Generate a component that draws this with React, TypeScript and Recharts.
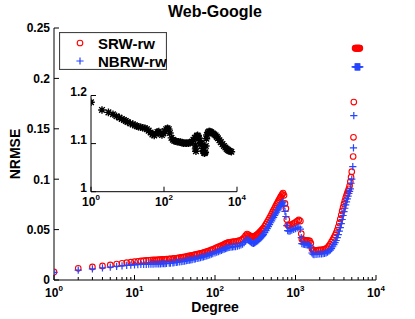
import { ScatterChart, Scatter, XAxis, YAxis, Legend, CartesianGrid } from 'recharts'

const FONT = '"Liberation Sans", Arial, Helvetica, sans-serif'
const RED = '#ff0000'
const BLUE = '#2444ff'
const AXIS = '#000000'

// degree values of the main curves
const DEGREE = [
  1, 2, 3, 4, 5, 6, 7, 8, 9,
  10, 11, 12, 13, 14, 15, 16, 17, 18, 19,
  20, 21, 22, 23, 24, 25, 27, 28, 30, 31,
  33, 34, 36, 38, 40, 42, 44, 46, 48, 50,
  52, 55, 57, 60, 63, 66, 69, 72, 75, 79,
  82, 86, 90, 94, 100, 105, 110, 115, 120, 125,
  130, 135, 140, 145, 150, 158, 165, 172, 180, 190,
  200, 210, 220, 230, 240, 250, 260, 268, 275, 283,
  290, 300, 310, 320, 330, 340, 350, 360, 370, 380,
  390, 400, 415, 430, 445, 460, 475, 490, 505, 520,
  535, 550, 565, 580, 595, 610, 625, 640, 655, 670,
  685, 700, 720, 740, 760, 780, 800, 830, 860, 900,
  950, 1000, 1050, 1100, 1150, 1180, 1200, 1250, 1300, 1350,
  1400, 1450, 1500, 1550, 1600, 1650, 1700, 1800, 1900, 2000,
  2100, 2200, 2300, 2400, 2500, 2600, 2700, 2800, 2900, 3000,
  3100, 3200, 3300, 3400, 3500, 3600, 3700, 3800, 3900, 4000,
  4100, 4200, 4300, 4400, 4500, 4600, 4700, 4800, 4900, 5000,
]

const SRW = [
  0.008, 0.0116, 0.013, 0.014, 0.015, 0.0158, 0.0166, 0.0172, 0.0177,
  0.0182, 0.0186, 0.0189, 0.0192, 0.0194, 0.0196, 0.0198, 0.0199, 0.02, 0.0201,
  0.0202, 0.0203, 0.0204, 0.0205, 0.0206, 0.0207, 0.0209, 0.021, 0.0213, 0.0214,
  0.0216, 0.0218, 0.0221, 0.0224, 0.0227, 0.023, 0.0233, 0.0236, 0.0239, 0.0242,
  0.0245, 0.0249, 0.0252, 0.0256, 0.026, 0.0264, 0.0268, 0.0272, 0.0276, 0.0282,
  0.0286, 0.0292, 0.0298, 0.0304, 0.0314, 0.0321, 0.0328, 0.0334, 0.0341, 0.0347,
  0.0354, 0.036, 0.0366, 0.0371, 0.0374, 0.0376, 0.0378, 0.038, 0.0382, 0.0386,
  0.039, 0.0396, 0.0405, 0.042, 0.044, 0.0456, 0.0448, 0.044, 0.0435, 0.0431,
  0.0428, 0.043, 0.0434, 0.044, 0.0447, 0.0455, 0.0465, 0.0475, 0.0485, 0.0495,
  0.0505, 0.0515, 0.0535, 0.0555, 0.0575, 0.0595, 0.0615, 0.0635, 0.0655, 0.0675,
  0.0694, 0.0712, 0.073, 0.0748, 0.0764, 0.078, 0.0795, 0.081, 0.0824, 0.0838,
  0.085, 0.0862, 0.084, 0.076, 0.071, 0.06, 0.0545, 0.054, 0.0545, 0.0552,
  0.0562, 0.0572, 0.0584, 0.0596, 0.0585, 0.046, 0.0405, 0.0398, 0.0395, 0.0393,
  0.0392, 0.039, 0.0388, 0.0365, 0.031, 0.0295, 0.0292, 0.0293, 0.0296, 0.0298,
  0.03, 0.0302, 0.0306, 0.0312, 0.0322, 0.0338, 0.0356, 0.0378, 0.0398, 0.042,
  0.0444, 0.0468, 0.0496, 0.0528, 0.0565, 0.0605, 0.0645, 0.0685, 0.072, 0.0755,
  0.0785, 0.0815, 0.084, 0.0862, 0.0882, 0.0905, 0.0935, 0.0975, 0.102, 0.1075,
]

const NBRW = [
  0.0075, 0.0098, 0.011, 0.012, 0.0128, 0.0135, 0.014, 0.0145, 0.0148,
  0.015, 0.0152, 0.0154, 0.0155, 0.0156, 0.0157, 0.0158, 0.0158, 0.0159, 0.0159,
  0.016, 0.016, 0.0161, 0.0162, 0.0163, 0.0164, 0.0166, 0.0167, 0.017, 0.0171,
  0.0174, 0.0176, 0.0179, 0.0182, 0.0185, 0.0188, 0.0191, 0.0194, 0.0197, 0.02,
  0.0203, 0.0207, 0.021, 0.0214, 0.0218, 0.0222, 0.0226, 0.023, 0.0234, 0.024,
  0.0244, 0.025, 0.0256, 0.0262, 0.027, 0.0276, 0.0282, 0.0288, 0.0294, 0.03,
  0.0305, 0.0311, 0.0316, 0.0321, 0.0324, 0.0326, 0.0328, 0.033, 0.0332, 0.0336,
  0.034, 0.0347, 0.0355, 0.037, 0.039, 0.0402, 0.0395, 0.0387, 0.038, 0.0372,
  0.0365, 0.0362, 0.0368, 0.0375, 0.0382, 0.039, 0.04, 0.041, 0.042, 0.043,
  0.044, 0.045, 0.047, 0.049, 0.051, 0.053, 0.0549, 0.0568, 0.0586, 0.0605,
  0.0622, 0.064, 0.0656, 0.0672, 0.0687, 0.0702, 0.0716, 0.073, 0.0742, 0.0755,
  0.0766, 0.0776, 0.074, 0.068, 0.063, 0.054, 0.049, 0.0485, 0.0488, 0.0495,
  0.0502, 0.051, 0.0518, 0.0525, 0.0505, 0.042, 0.036, 0.0355, 0.0352, 0.035,
  0.0349, 0.0347, 0.0345, 0.032, 0.0268, 0.0256, 0.0252, 0.0253, 0.0256, 0.0258,
  0.026, 0.0262, 0.0265, 0.027, 0.0276, 0.0285, 0.0297, 0.0312, 0.033, 0.035,
  0.037, 0.0392, 0.042, 0.045, 0.0485, 0.052, 0.056, 0.06, 0.064, 0.0678,
  0.0712, 0.0745, 0.0775, 0.0805, 0.0832, 0.0858, 0.088, 0.0905, 0.096, 0.1,
]

// sparse points on the last jump, and the highest degrees
const SRW_TAIL_DEGREE = [5200, 5250, 5300]
const SRW_TAIL = [0.1225, 0.1415, 0.1765]
const NBRW_TAIL_DEGREE = [5150, 5250, 5300]
const NBRW_TAIL = [0.1125, 0.131, 0.163]
const TOP_DEGREE = [5500, 5600, 5700, 5800, 5900, 6000, 6100, 6200, 6300]
const SRW_TOP = [0.23, 0.23, 0.23, 0.23, 0.23, 0.23, 0.23, 0.23, 0.23]
const NBRW_TOP = [0.2115, 0.2115, 0.2115, 0.2115, 0.2115, 0.2115, 0.2115, 0.2115, 0.2115]

// inset: ratio of the two errors
const INSET_DEGREE = [
  1, 2, 3, 4, 5, 6, 7, 8, 9, 10, 12, 14, 16, 18, 20, 23, 26, 30, 34, 38, 43, 48, 54, 60, 66, 72, 80,
  88, 96, 105, 115, 125, 135, 145, 160, 175, 190, 210, 230, 250, 280, 310, 340, 380, 420, 470, 520,
  580, 640, 700, 720, 735, 750, 770, 800, 830, 860, 900, 950, 1000, 1050, 1100, 1150, 1200, 1250,
  1300, 1350, 1400, 1450, 1500, 1600, 1700, 1800, 1900, 2000, 2200, 2400, 2600, 2800, 3000, 3300,
  3600, 4000, 4400, 4800, 5200, 5600, 6000, 6500, 7000,
]
const INSET_RATIO = [
  1.186, 1.17, 1.165, 1.161, 1.157, 1.154, 1.151, 1.149, 1.147, 1.145, 1.142, 1.14, 1.138, 1.136,
  1.135, 1.134, 1.133, 1.132, 1.13, 1.127, 1.123, 1.119, 1.117, 1.12, 1.124, 1.125, 1.121, 1.118,
  1.121, 1.126, 1.13, 1.132, 1.13, 1.122, 1.112, 1.108, 1.106, 1.105, 1.104, 1.104, 1.103, 1.102,
  1.101, 1.101, 1.101, 1.101, 1.102, 1.104, 1.108, 1.112, 1.097, 1.089, 1.084, 1.113, 1.116, 1.117,
  1.115, 1.112, 1.106, 1.101, 1.1, 1.097, 1.09, 1.084, 1.081, 1.08, 1.082, 1.095, 1.11, 1.118, 1.123,
  1.125, 1.125, 1.124, 1.123, 1.121, 1.119, 1.117, 1.114, 1.111, 1.107, 1.103, 1.099, 1.095, 1.092,
  1.089, 1.087, 1.085, 1.084, 1.083,
]

const Y_TICKS = [0, 0.05, 0.1, 0.15, 0.2, 0.25]
const DECADES = [1, 10, 100, 1000]
const X_TICKS = [...DECADES.flatMap((d) => [1, 2, 3, 4, 5, 6, 7, 8, 9].map((m) => m * d)), 10000]
const INSET_X_TICKS = [1, 100, 10000]
const INSET_Y_TICKS = [1, 1.1, 1.2]

const srwData = [
  ...DEGREE.map((d, i) => ({ d, v: SRW[i] })),
  ...SRW_TAIL_DEGREE.map((d, i) => ({ d, v: SRW_TAIL[i] })),
  ...TOP_DEGREE.map((d, i) => ({ d, v: SRW_TOP[i] })),
]
const nbrwData = [
  ...DEGREE.map((d, i) => ({ d, v: NBRW[i] })),
  ...NBRW_TAIL_DEGREE.map((d, i) => ({ d, v: NBRW_TAIL[i] })),
  ...TOP_DEGREE.map((d, i) => ({ d, v: NBRW_TOP[i] })),
]
const insetData = INSET_DEGREE.map((d, i) => ({ d, v: INSET_RATIO[i] }))

const isMajor = (v: number) => {
  const e = Math.log10(v)
  return Math.abs(e - Math.round(e)) < 1e-6
}

const label = { fontFamily: FONT, fontWeight: 'bold' as const, fill: '#000' }

const circle = (p: any) => <circle cx={p.cx} cy={p.cy} r={2.8} fill="none" stroke={RED} strokeWidth={1.1} />
const plus = (p: any) => (
  <path d={`M${p.cx - 3.6},${p.cy}H${p.cx + 3.6}M${p.cx},${p.cy - 3.6}V${p.cy + 3.6}`} stroke={BLUE} strokeWidth={1.2} />
)
const star = (p: any) => (
  <path
    d={`M${p.cx - 3.8},${p.cy}H${p.cx + 3.8}M${p.cx},${p.cy - 3.8}V${p.cy + 3.8}M${p.cx - 2.8},${p.cy - 2.8}L${p.cx + 2.8},${p.cy + 2.8}M${p.cx - 2.8},${p.cy + 2.8}L${p.cx + 2.8},${p.cy - 2.8}`}
    stroke="#000"
    strokeWidth={1.4}
  />
)

function LogTick({ x, y, payload, dir, labelDy, minor, size }: any) {
  const major = isMajor(payload.value)
  if (!major && !minor) return null
  const len = major ? 5 : 3
  const e = Math.round(Math.log10(payload.value))
  return (
    <g>
      <line x1={x} x2={x} y1={y} y2={y + dir * len} stroke={AXIS} />
      {labelDy != null && major && (
        <text x={x} y={y + labelDy} textAnchor="middle" fontSize={size} {...label}>
          10<tspan dy={-6} fontSize={8}>{e}</tspan>
        </text>
      )}
    </g>
  )
}

function ValueTick({ x, y, payload, dir, showLabel, dy = '0.36em' }: any) {
  return (
    <g>
      <line x1={x} x2={x + dir * 5} y1={y} y2={y} stroke={AXIS} />
      {showLabel && (
        <text x={x - 4} y={y} dy={dy} textAnchor="end" fontSize={12} {...label}>
          {String(payload.value)}
        </text>
      )}
    </g>
  )
}

function LegendBox() {
  return (
    <svg width={108} height={38} style={{ display: 'block' }}>
      <rect x={0.5} y={0.5} width={107} height={37} fill="#fff" stroke="#444" strokeWidth={1.2} />
      {circle({ cx: 21, cy: 11 })}
      <text x={39} y={16.5} fontSize={15} {...label}>SRW-rw</text>
      {plus({ cx: 21, cy: 29 })}
      <text x={39} y={34.8} fontSize={15} {...label}>NBRW-rw</text>
    </svg>
  )
}

export default function App() {
  return (
    <div style={{ position: 'absolute', left: 0, top: 0, width: 415, height: 319, background: '#fff' }}>
      <ScatterChart width={415} height={319} margin={{ top: 28, right: 39, bottom: 0, left: 0 }}>
        <XAxis
          dataKey="d" type="number" scale="log" domain={[1, 10000]} allowDataOverflow
          ticks={X_TICKS} interval={0} height={39} tickSize={0} tickMargin={0} tickLine={false}
          axisLine={{ stroke: AXIS }}
          tick={(p: any) => <LogTick {...p} dir={-1} labelDy={17} minor size={12} />}
        />
        <XAxis
          xAxisId="top" orientation="top" dataKey="d" type="number" scale="log" domain={[1, 10000]}
          allowDataOverflow ticks={X_TICKS} interval={0} height={0} tickSize={0} tickMargin={0}
          tickLine={false} axisLine={{ stroke: AXIS }}
          tick={(p: any) => <LogTick {...p} dir={1} minor />}
        />
        <YAxis
          dataKey="v" type="number" domain={[0, 0.25]} allowDataOverflow ticks={Y_TICKS} interval={0}
          width={54} tickSize={0} tickMargin={0} tickLine={false} axisLine={{ stroke: AXIS }}
          tick={(p: any) => <ValueTick {...p} dir={1} showLabel />}
        />
        <YAxis
          yAxisId="right" orientation="right" dataKey="v" type="number" domain={[0, 0.25]}
          allowDataOverflow ticks={Y_TICKS} interval={0} width={0} tickSize={0} tickMargin={0}
          tickLine={false} axisLine={{ stroke: AXIS }}
          tick={(p: any) => <ValueTick {...p} dir={-1} />}
        />
        <Scatter name="SRW-rw" data={srwData} shape={circle} isAnimationActive={false} />
        <Scatter name="NBRW-rw" data={nbrwData} shape={plus} isAnimationActive={false} />
        <Legend
          layout="vertical" align="center" verticalAlign="middle"
          wrapperStyle={{ left: 59, top: 32, width: 108, height: 38 }}
          content={() => <LegendBox />}
        />
      </ScatterChart>

      <div style={{ position: 'absolute', left: 60, top: 85 }}>
        <ScatterChart width={190} height={135} margin={{ top: 10.5, right: 13, bottom: 0, left: 0 }}>
          <CartesianGrid horizontal={false} vertical={false} fill="#fff" />
          <XAxis
            dataKey="d" type="number" scale="log" domain={[1, 10000]} allowDataOverflow
            ticks={INSET_X_TICKS} interval={0} height={28.3} tickSize={0} tickMargin={0} tickLine={false}
            axisLine={{ stroke: AXIS }}
            tick={(p: any) => <LogTick {...p} dir={-1} labelDy={14} size={12} />}
          />
          <XAxis
            xAxisId="top" orientation="top" dataKey="d" type="number" scale="log" domain={[1, 10000]}
            allowDataOverflow ticks={INSET_X_TICKS} interval={0} height={0} tickSize={0} tickMargin={0}
            tickLine={false} axisLine={{ stroke: AXIS }}
            tick={(p: any) => <LogTick {...p} dir={1} />}
          />
          <YAxis
            dataKey="v" type="number" domain={[1, 1.2]} allowDataOverflow ticks={INSET_Y_TICKS} interval={0}
            width={31} tickSize={0} tickMargin={0} tickLine={false} axisLine={{ stroke: AXIS }}
            tick={(p: any) => <ValueTick {...p} dir={1} showLabel dy="0em" />}
          />
          <YAxis
            yAxisId="right" orientation="right" dataKey="v" type="number" domain={[1, 1.2]}
            allowDataOverflow ticks={INSET_Y_TICKS} interval={0} width={0} tickSize={0} tickMargin={0}
            tickLine={false} axisLine={{ stroke: AXIS }}
            tick={(p: any) => <ValueTick {...p} dir={-1} />}
          />
          <Scatter data={insetData} shape={star} isAnimationActive={false} />
        </ScatterChart>
      </div>

      <svg width={415} height={319} style={{ position: 'absolute', left: 0, top: 0, pointerEvents: 'none' }}>
        <text x={215} y={16.5} textAnchor="middle" fontSize={16} {...label}>Web-Google</text>
        <text x={215} y={311.5} textAnchor="middle" fontSize={14} {...label}>Degree</text>
        <text x={19.5} y={154} textAnchor="middle" fontSize={14} transform="rotate(-90 19.5 154)" {...label}>
          NRMSE
        </text>
      </svg>
    </div>
  )
}
